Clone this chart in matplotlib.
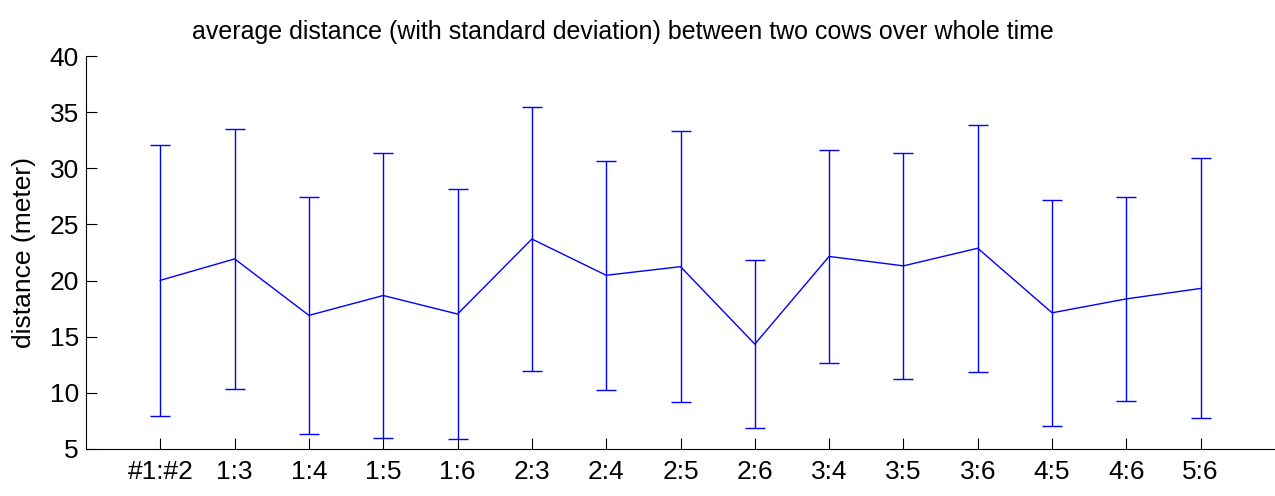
import numpy as np
import matplotlib.pyplot as plt

# pair labels and values
pairs = ["#1:#2", "1:3", "1:4", "1:5", "1:6", "2:3", "2:4", "2:5",
         "2:6", "3:4", "3:5", "3:6", "4:5", "4:6", "5:6"]
mean_dist = [20.02, 21.93, 16.90, 18.67, 17.02, 23.70, 20.47, 21.24,
             14.34, 22.15, 21.31, 22.88, 17.13, 18.37, 19.30]
std_dist = [12.05, 11.59, 10.54, 12.69, 11.16, 11.77, 10.22, 12.08,
            7.50, 9.46, 10.05, 11.00, 10.08, 9.10, 11.58]

plt.rcParams['font.family'] = ['Liberation Sans', 'DejaVu Sans']

fig = plt.figure(figsize=(12.75, 4.96), dpi=100)
ax = fig.add_axes([86 / 1275, 47 / 496, 1189 / 1275, 393 / 496])

x = np.arange(1, len(pairs) + 1)

ax.errorbar(
    x,
    mean_dist,
    yerr=std_dist,
    color='#0000ff',
    linewidth=1,
    elinewidth=1,
    capsize=7.5,
    capthick=1
)

ax.set_xlim(0, 16)
ax.set_ylim(5, 40)
ax.set_xticks(x)
ax.set_xticklabels(pairs)
ax.set_yticks(range(5, 41, 5))

for side in ['top', 'right']:
    ax.spines[side].set_visible(False)
for side in ['left', 'bottom']:
    ax.spines[side].set_linewidth(0.8)

ax.tick_params(direction='in', length=8, width=0.8, labelsize=19)
ax.tick_params(axis='y', pad=5)
ax.tick_params(axis='x', pad=8)

ax.set_ylabel("distance (meter)", fontsize=19, labelpad=10)
ax.set_title(
    "average distance (with standard deviation) between two cows over whole time",
    fontsize=18,
    x=(623 - 86) / 1189,
    pad=12
)

fig.savefig("out.png", dpi=100)
